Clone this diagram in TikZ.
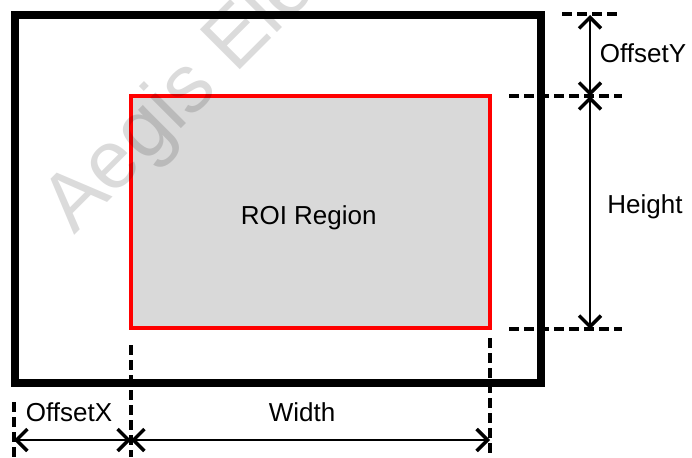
\documentclass[tikz,border=0pt]{standalone}
\usepackage{fontspec}
\setmainfont{Liberation Sans}
\usetikzlibrary{arrows.meta}
\begin{document}
\begin{tikzpicture}[x=1pt,y=-1pt,
  barb/.tip={Straight Barb[length=11pt,width=22pt,line width=3.5pt]},
  dimline/.style={line width=2.5pt,barb-barb},
  guide/.style={line width=3.5pt,dash pattern=on 10pt off 5pt},
  lbl/.style={font=\fontsize{26}{30}\selectfont,inner sep=0pt,anchor=base},
  roibox/.style={draw=red,fill=black!15,line width=4pt,minimum width=359pt,minimum height=232pt,inner sep=0pt}]
\useasboundingbox (0,0) rectangle (692,457);
% outer frame
\draw[line width=8pt] (14.5,15) rectangle (541,382.5);
% ROI
\node[roibox] (roi) at (310.5,212) {};
\node[lbl] (roitxt) at (308.7,224) {ROI Region};
% guide coordinates
\coordinate (ty1) at (562,14);   \coordinate (ty2) at (619,14);
\coordinate (my1) at (509,96);   \coordinate (my2) at (622,96);
\coordinate (by1) at (509,329);  \coordinate (by2) at (622,329);
\coordinate (lx1) at (14,402);   \coordinate (lx2) at (14,457);
\coordinate (cx1) at (131,345);  \coordinate (cx2) at (131,457);
\coordinate (rx1) at (490,338);  \coordinate (rx2) at (490,457);
\draw[guide] (ty1) -- (ty2);
\draw[guide] (my1) -- (my2);
\draw[guide] (by1) -- (by2);
\draw[guide] (lx1) -- (lx2);
\draw[guide] (cx1) -- (cx2);
\draw[guide] (rx1) -- (rx2);
% dimension arrows
\coordinate (ay1) at (590,15);
\coordinate (ay2) at (590,96);
\coordinate (ay3) at (590,329);
\coordinate (ax1) at (14,440);
\coordinate (ax2) at (131,440);
\coordinate (ax3) at (490,440);
\draw[dimline] (ay1) -- (ay2);
\draw[dimline] (ay2) -- (ay3);
\draw[dimline] (ax1) -- (ax2);
\draw[dimline] (ax2) -- (ax3);
% labels
\node[lbl] (offy) at (643,62.3) {OffsetY};
\node[lbl] (hgt) at (645,213.3) {Height};
\node[lbl] (offx) at (69,421) {OffsetX};
\node[lbl] (wid) at (302,421) {Width};
% watermark
\node[rotate=45,anchor=base west,inner sep=0pt,text=black,opacity=0.14,font=\fontsize{82}{90}\selectfont] (wm) at (74,236) {Aegis Ele};
\end{tikzpicture}
\end{document}
